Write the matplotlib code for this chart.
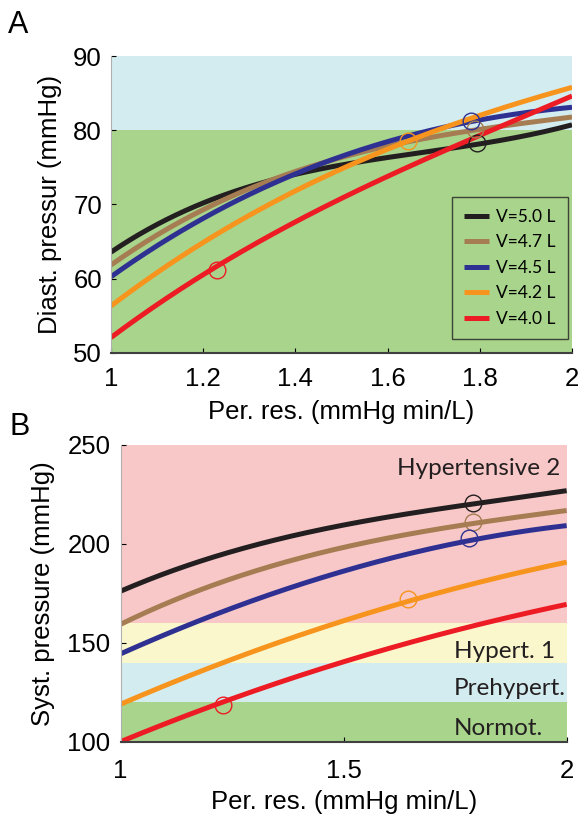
import numpy as np
import matplotlib
matplotlib.use("Agg")
from matplotlib import pyplot as plt

plt.rcParams['font.family'] = ['Liberation Sans', 'DejaVu Sans']

# volumes and colours
labels = ["V=5.0 L", "V=4.7 L", "V=4.5 L", "V=4.2 L", "V=4.0 L"]
colors = ["#231f20", "#a67c52", "#2e3192", "#f7941d", "#ed1c24"]

# panel A: diastolic pressure vs peripheral resistance
res_a = [1.0, 1.2, 1.4, 1.6, 1.8, 2.0]
diast = [
    [63.5, 70.4, 73.8, 76.4, 78.2, 80.7],
    [61.8, 69.4, 74.2, 78.1, 80.0, 81.8],
    [60.2, 68.3, 73.8, 78.7, 81.3, 83.1],
    [56.2, 65.2, 71.5, 77.4, 82.2, 85.7],
    [52.0, 60.7, 67.4, 73.9, 79.3, 84.6],
]
circ_a_x = [1.795, 1.79, 1.78, 1.645, 1.23]
circ_a_y = [78.3, 80.2, 81.2, 78.5, 61.2]

# panel B: systolic pressure vs peripheral resistance
res_b = [1.0, 1.25, 1.5, 1.75, 2.0]
syst = [
    [176.2, 195.8, 210.1, 218.5, 227.0],
    [159.4, 182.4, 198.4, 208.8, 216.9],
    [144.5, 167.3, 186.6, 200.0, 209.3],
    [119.0, 141.5, 161.4, 177.3, 190.8],
    [100.0, 121.8, 140.3, 156.3, 169.4],
]
circ_b_x = [1.79, 1.79, 1.78, 1.645, 1.23]
circ_b_y = [220.5, 211.0, 203.0, 172.0, 118.5]

# pressure classes (low, high, colour, label, label baseline)
bands_b = [(100, 120, "#a8d48c", "Normot.", 103.4),
           (120, 140, "#d3ecf0", "Prehypert.", 123.6),
           (140, 160, "#fbf7cc", "Hypert. 1", 142.3),
           (160, 250, "#f8c8c8", None, None)]

band_font = ["Lato", "DejaVu Sans"]


def smooth(xs, ys):
    c = np.polyfit(xs, ys, 3)
    xx = np.linspace(xs[0], xs[-1], 200)
    return xx, np.polyval(c, xx)


def style(ax, xpad, ypad):
    for s in ["top", "right"]:
        ax.spines[s].set_visible(False)
    ax.spines["left"].set_color("#b0b0b0")
    ax.spines["left"].set_linewidth(0.8)
    ax.spines["bottom"].set_color("#404040")
    ax.spines["bottom"].set_linewidth(1.5)
    ax.tick_params(direction="in", length=3.5, width=0.8, labelsize=18.5)
    ax.tick_params(axis="x", pad=xpad)
    ax.tick_params(axis="y", pad=ypad)


fig = plt.figure(figsize=(5.81, 8.18), dpi=100)

axA = fig.add_axes([0.191, 0.5688, 0.7935, 0.3627])
axA.axhspan(50, 80, color="#a8d48c", lw=0, zorder=0)
axA.axhspan(80, 90, color="#d3ecf0", lw=0, zorder=0)
for i in range(5):
    xx, yy = smooth(res_a, diast[i])
    axA.plot(xx, yy, color=colors[i], lw=3.6, label=labels[i], solid_capstyle="butt")
for i in range(5):
    axA.plot(circ_a_x[i], circ_a_y[i], "o", ms=12, mfc="none", mec=colors[i], mew=1)
axA.set_xlim(1, 2)
axA.set_ylim(50, 90)
axA.set_xticks([1, 1.2, 1.4, 1.6, 1.8, 2])
axA.set_xticklabels(["1", "1.2", "1.4", "1.6", "1.8", "2"])
axA.set_yticks([50, 60, 70, 80, 90])
style(axA, 10, 6.5)
axA.set_xlabel("Per. res. (mmHg min/L)", fontsize=18.5, labelpad=7)
axA.set_ylabel("Diast. pressur (mmHg)", fontsize=18.5, labelpad=8)
leg = axA.legend(loc="lower right", bbox_to_anchor=(0.991, 0.046), borderaxespad=0,
                 prop={"family": band_font, "size": 12.5}, frameon=True, fancybox=False,
                 edgecolor="#231f20", facecolor="none", handlelength=1.45,
                 handletextpad=0.4, labelspacing=0.55, borderpad=0.7)
leg.get_frame().set_linewidth(1)
fig.text(0.014, 0.9597, "A", fontsize=22)

axB = fig.add_axes([0.2077, 0.0933, 0.7676, 0.3627])
for lo, hi, c, t, yb in bands_b:
    axB.axhspan(lo, hi, color=c, lw=0, zorder=0)
    if t:
        axB.text(1.747, yb, t, fontsize=17.5, family=band_font, va="baseline",
                 ha="left", color="#231f20")
axB.text(1.985, 234.8, "Hypertensive 2", fontsize=17.5, family=band_font,
         va="baseline", ha="right", color="#231f20")
for i in range(5):
    xx, yy = smooth(res_b, syst[i])
    axB.plot(xx, yy, color=colors[i], lw=3.6, solid_capstyle="butt")
for i in range(5):
    axB.plot(circ_b_x[i], circ_b_y[i], "o", ms=12, mfc="none", mec=colors[i], mew=1)
axB.set_xlim(1, 2)
axB.set_ylim(100, 250)
axB.set_xticks([1, 1.5, 2])
axB.set_xticklabels(["1", "1.5", "2"])
axB.set_yticks([100, 150, 200, 250])
style(axB, 12.5, 7.5)
axB.set_xlabel("Per. res. (mmHg min/L)", fontsize=18.5, labelpad=5)
axB.set_ylabel("Syst. pressure (mmHg)", fontsize=18.5, labelpad=9)
fig.text(0.016, 0.4682, "B", fontsize=22)

fig.savefig("out.png", dpi=100)
